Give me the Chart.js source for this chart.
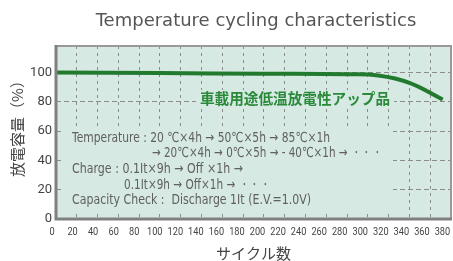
<!DOCTYPE html>
<html>
<head>
<meta charset="utf-8">
<script src="https://cdn.jsdelivr.net/npm/chart.js@4"></script>
<style>
  html, body { margin: 0; padding: 0; background: #fff; }
  #wrap { width: 453px; height: 261px; }
</style>
</head>
<body>
<div id="wrap"><canvas id="cycling"></canvas></div>
<script>
// data
const cycles   = [0, 100, 200, 280, 310, 340, 372]
const capacity = [100, 99.5, 99.1, 98.7, 97.9, 92.9, 81.5]
const seriesLabel = '車載用途低温放電性アップ品'

// test conditions written inside the plot
const conditionLines = [
    'Temperature : 20 ℃×4h → 50℃×5h → 85℃×1h',
    '→ 20℃×4h → 0℃×5h → - 40℃×1h → ・・・',
    'Charge : 0.1It×9h → Off ×1h →',
    '0.1It×9h → Off×1h → ・・・',
    'Capacity Check :  Discharge 1It (E.V.=1.0V)'
]
const chartTitle = 'Temperature cycling characteristics'
const yTitle = '放電容量（%）'

const plotBg = '#d6e9e3'
const gray = '#555'
const gridGray = '#8c8c8c'

// background, text box, label, frame and titles of the plot
const plotDecor = {
    id: 'plotDecor',
    beforeDraw(chart) {
        const { ctx, chartArea: a } = chart
        ctx.save()
        ctx.fillStyle = plotBg
        ctx.fillRect(a.left, a.top, a.right - a.left, a.bottom - a.top)
        ctx.restore()
    },
    beforeDatasetsDraw(chart) {
        const { ctx, chartArea: a } = chart
        ctx.save()
        // boxes hiding the grid under the texts
        ctx.fillStyle = plotBg
        ctx.fillRect(a.left + 6, 129, 393 - a.left - 6, 81)
        ctx.fillRect(196, 90, 198, 16)

        // condition text
        ctx.fillStyle = '#606060'
        ctx.font = '14px "DejaVu Sans"'
        ctx.textBaseline = 'middle'
        const rows = [
            [72, 138, 258],
            [152, 153, 230],
            [72, 169, 171],
            [124, 185, 146],
            [72, 200, 239]
        ]
        conditionLines.forEach((t, i) => {
            const r = rows[i]
            ctx.fillText(t, r[0], r[1], r[2])
        })

        // green series label
        ctx.fillStyle = '#2a8a3a'
        ctx.font = 'bold 15px "Noto Sans CJK JP"'
        ctx.fillText(seriesLabel, 200, 98, 190)
        ctx.restore()
    },
    afterDraw(chart) {
        const { ctx, chartArea: a } = chart
        ctx.save()
        ctx.strokeStyle = '#999'
        ctx.lineWidth = 2
        ctx.beginPath()
        ctx.moveTo(a.left, a.top)
        ctx.lineTo(a.right, a.top)
        ctx.lineTo(a.right, a.bottom)
        ctx.stroke()
        ctx.strokeStyle = '#808080'
        ctx.lineWidth = 3
        ctx.beginPath()
        ctx.moveTo(a.left, a.top - 1)
        ctx.lineTo(a.left, a.bottom)
        ctx.lineTo(a.right + 1, a.bottom)
        ctx.stroke()

        // chart title
        ctx.fillStyle = gray
        ctx.font = '18px "DejaVu Sans"'
        ctx.textAlign = 'center'
        ctx.textBaseline = 'middle'
        ctx.fillText(chartTitle, 256, 21, 322)

        // x tick labels, narrow like the original
        const xs = chart.scales.x
        ctx.fillStyle = '#444'
        ctx.font = '11.5px Roboto'
        xs.ticks.forEach(t => {
            const txt = String(t.value)
            const px = xs.getPixelForValue(t.value) - 4 - t.value * 0.012
            ctx.fillText(txt, px, 232, ctx.measureText(txt).width * 0.8)
        })

        // x axis title
        ctx.font = '15px "Noto Sans CJK JP"'
        ctx.fillText('サイクル数', (a.left + a.right) / 2, 253)

        // y axis title, rotated
        ctx.translate(17, 125)
        ctx.rotate(-Math.PI / 2)
        ctx.fillText(yTitle, 0, 0)
        ctx.restore()
    }
}

const config = {
    type: 'line',
    data: {
        datasets: [{
            label: seriesLabel,
            data: cycles.map((c, i) => ({ x: c, y: capacity[i] })),
            borderColor: '#217a2d',
            borderWidth: 4,
            pointRadius: 0,
            fill: false,
            tension: 0.4
        }]
    },
    options: {
        responsive: false,
        animation: false,
        devicePixelRatio: 1,
        layout: { padding: { left: 0, right: 2, top: 46, bottom: 0 } },
        plugins: {
            legend: { display: false },
            tooltip: { enabled: false },
            title: { display: false }
        },
        scales: {
            x: {
                type: 'linear',
                min: 0,
                max: 380,
                afterFit: s => { s.height = 42 },
                grid: {
                    drawTicks: false,
                    color: c => (c.tick && (c.tick.value === 0 || c.tick.value === 380)) ? 'rgba(0,0,0,0)' : gridGray
                },
                border: { display: false, dash: [3, 4] },
                ticks: {
                    stepSize: 20,
                    display: false
                },
                title: { display: false }
            },
            y: {
                min: 0,
                max: 118,
                afterFit: s => { s.width = 56 },
                afterBuildTicks: s => { s.ticks = s.ticks.filter(t => t.value % 20 === 0) },
                grid: {
                    drawTicks: false,
                    color: c => (c.tick && c.tick.value === 0) ? 'rgba(0,0,0,0)' : gridGray
                },
                border: { display: false, dash: [5, 3] },
                ticks: {
                    stepSize: 20,
                    padding: 4,
                    color: '#444',
                    font: { family: 'Roboto', size: 13 }
                },
                title: { display: false }
            }
        }
    },
    plugins: [plotDecor]
}

const chartCanvas = document.getElementById('cycling')
chartCanvas.width = 453
chartCanvas.height = 261
new Chart(chartCanvas, config)
</script>
</body>
</html>
